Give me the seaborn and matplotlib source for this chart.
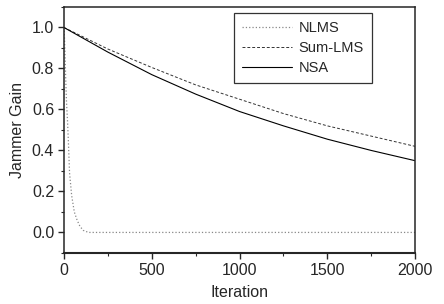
import matplotlib
matplotlib.use('Agg')
import matplotlib.pyplot as plt
import seaborn as sns
from matplotlib.ticker import MultipleLocator

# values
nlms_iter = [0, 3, 6, 10, 15, 20, 25, 32, 44, 59, 75, 91, 110, 140, 2000]
nlms_gain = [1.0, 0.95, 0.88, 0.75, 0.63, 0.55, 0.45, 0.29, 0.18, 0.10, 0.06, 0.03, 0.01, 0.0, 0.0]

sum_iter = [0, 250, 500, 750, 1000, 1250, 1500, 1750, 2000]
sum_gain = [1.0, 0.895, 0.805, 0.72, 0.65, 0.58, 0.52, 0.47, 0.42]

nsa_iter = [0, 250, 500, 750, 1000, 1250, 1500, 1750, 2000]
nsa_gain = [1.0, 0.88, 0.77, 0.675, 0.59, 0.52, 0.455, 0.40, 0.35]

sns.set_style('ticks')
plt.rcParams['font.family'] = ['Liberation Sans', 'DejaVu Sans']

fig = plt.figure(figsize=(4.44, 3.04), dpi=100)
ax = fig.add_axes([0.144, 0.168, 0.791, 0.809])

sns.lineplot(x=nlms_iter, y=nlms_gain, ax=ax, color='#888888', linestyle=':', linewidth=0.9, label='NLMS')
sns.lineplot(x=sum_iter, y=sum_gain, ax=ax, color='#333333', linestyle=(0, (3, 2)), linewidth=0.7, label='Sum-LMS')
sns.lineplot(x=nsa_iter, y=nsa_gain, ax=ax, color='black', linestyle='-', linewidth=0.8, label='NSA')

ax.set_xlim(0, 2000)
ax.set_ylim(-0.1, 1.1)
ax.xaxis.set_major_locator(MultipleLocator(500))
ax.xaxis.set_minor_locator(MultipleLocator(250))
ax.yaxis.set_major_locator(MultipleLocator(0.2))
ax.yaxis.set_minor_locator(MultipleLocator(0.1))
ax.set_yticks([0.0, 0.2, 0.4, 0.6, 0.8, 1.0])
ax.tick_params(which='major', direction='out', length=4, width=1, labelsize=11.5, pad=3)
ax.tick_params(which='minor', direction='out', length=2.5, width=0.8)
for s in ax.spines.values():
    s.set_linewidth(1.1)
    s.set_visible(True)
ax.spines['bottom'].set_linewidth(1.5)

ax.set_xlabel('Iteration', fontsize=11.5, labelpad=5)
ax.set_ylabel('Jammer Gain', fontsize=11.5, labelpad=5)

leg = ax.legend(loc='upper left', bbox_to_anchor=(0.484, 0.975), borderaxespad=0, fontsize=10.5,
                frameon=True, fancybox=False, edgecolor='black', handlelength=3.4, handletextpad=0.5,
                borderpad=0.55, labelspacing=0.42)
leg.get_frame().set_linewidth(0.9)

fig.savefig('out.png', dpi=100)
